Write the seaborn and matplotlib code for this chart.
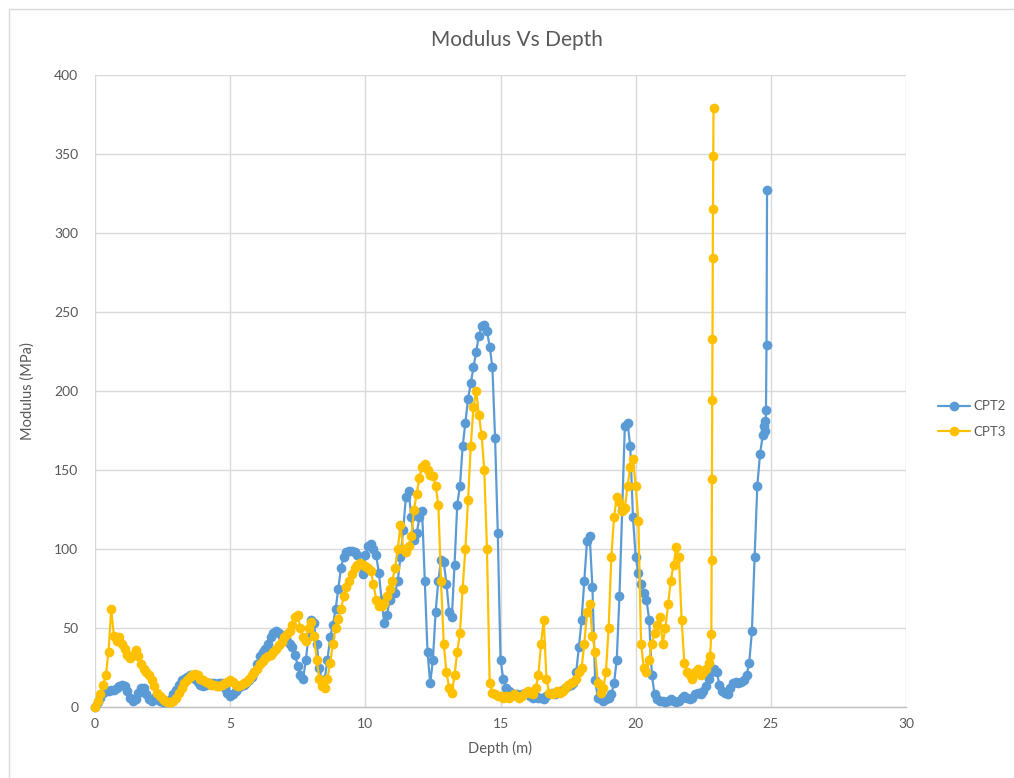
import numpy as np
import pandas as pd
import seaborn as sns
import matplotlib
matplotlib.use("Agg")
from matplotlib import pyplot as plt
from matplotlib.patches import Rectangle

# CPT soundings, modulus (MPa) every 0.1 m, plus the last few readings
cpt2_mod = [
    0, 3, 6, 9, 10, 10, 11, 11, 12, 13,            # 0.0 - 0.9
    14, 13, 10, 6, 4, 5, 9, 12, 12, 8,              # 1.0 - 1.9
    5, 4, 6, 5, 4, 3, 3, 4, 5, 8,                   # 2.0 - 2.9
    11, 14, 17, 18, 19, 20, 20, 18, 16, 14,         # 3.0 - 3.9
    13, 14, 15, 15, 15, 14, 15, 15, 12, 9,          # 4.0 - 4.9
    7, 8, 10, 12, 13, 14, 15, 17, 19, 22,           # 5.0 - 5.9
    27, 32, 35, 37, 40, 44, 47, 48, 47, 45,         # 6.0 - 6.9
    44, 42, 40, 38, 33, 26, 20, 18, 30, 45,         # 7.0 - 7.9
    55, 53, 40, 25, 16, 18, 30, 44, 52, 62,         # 8.0 - 8.9
    75, 88, 95, 98, 99, 99, 98, 96, 90, 84,         # 9.0 - 9.9
    96, 102, 103, 100, 96, 85, 68, 53, 58, 68,      # 10.0 - 10.9
    72, 72, 80, 95, 112, 133, 137, 120, 106, 110,   # 11.0 - 11.9
    120, 124, 80, 35, 15, 30, 60, 80, 93, 92,       # 12.0 - 12.9
    78, 60, 57, 90, 128, 140, 165, 180, 195, 205,   # 13.0 - 13.9
    215, 225, 235, 241, 242, 238, 228, 215, 170, 110,  # 14.0 - 14.9
    30, 18, 12, 10, 9, 8, 8, 7, 8, 9,               # 15.0 - 15.9
    8, 7, 6, 7, 6, 6, 5, 7, 8, 9,                   # 16.0 - 16.9
    8, 9, 10, 11, 12, 13, 14, 15, 22, 38,           # 17.0 - 17.9
    55, 80, 105, 108, 76, 17, 6, 5, 4, 5,           # 18.0 - 18.9
    6, 8, 15, 30, 70, 125, 178, 180, 165, 120,      # 19.0 - 19.9
    95, 85, 78, 72, 68, 55, 20, 8, 5, 4,            # 20.0 - 20.9
    4, 3, 4, 5, 4, 3, 4, 6, 7, 6,                   # 21.0 - 21.9
    5, 6, 8, 9, 8, 10, 13, 18, 22, 24,              # 22.0 - 22.9
    22, 14, 10, 9, 8, 12, 15, 16, 15, 16,           # 23.0 - 23.9
    17, 20, 28, 48, 95, 140, 160, 172,              # 24.0 - 24.7
]
cpt2_tail_depth = [24.75, 24.78, 24.80, 24.82, 24.84, 24.86]
cpt2_tail_mod = [178, 181, 175, 188, 229, 327]

cpt3_mod = [
    0, 4, 8, 14, 20, 35, 62, 45, 42, 44,            # 0.0 - 0.9
    40, 37, 33, 31, 33, 36, 32, 27, 24, 22,         # 1.0 - 1.9
    20, 17, 13, 9, 7, 5, 4, 3, 3, 4,                # 2.0 - 2.9
    6, 9, 12, 15, 17, 19, 20, 21, 20, 18,           # 3.0 - 3.9
    17, 16, 15, 14, 14, 13, 13, 14, 15, 16,         # 4.0 - 4.9
    17, 16, 14, 13, 14, 15, 16, 18, 20, 22,         # 5.0 - 5.9
    24, 27, 29, 31, 32, 33, 35, 37, 39, 41,         # 6.0 - 6.9
    44, 46, 48, 52, 57, 58, 50, 44, 42, 50,         # 7.0 - 7.9
    54, 45, 30, 18, 13, 12, 18, 28, 40, 50,         # 8.0 - 8.9
    56, 62, 70, 76, 80, 84, 88, 90, 91, 90,         # 9.0 - 9.9
    89, 88, 86, 78, 68, 64, 64, 66, 70, 75,         # 10.0 - 10.9
    80, 88, 100, 115, 100, 98, 102, 108, 125, 135,  # 11.0 - 11.9
    145, 152, 154, 150, 147, 146, 140, 128, 80, 40,  # 12.0 - 12.9
    22, 12, 9, 20, 35, 47, 75, 100, 131, 165,       # 13.0 - 13.9
    190, 200, 185, 172, 150, 100, 15, 9, 8, 7,      # 14.0 - 14.9
    7, 6, 7, 6, 7, 8, 7, 6, 7, 9,                   # 15.0 - 15.9
    10, 9, 8, 12, 20, 40, 55, 18, 9, 8,             # 16.0 - 16.9
    9, 10, 9, 10, 12, 14, 15, 16, 18, 22,           # 17.0 - 17.9
    25, 40, 60, 65, 45, 35, 15, 9, 12, 22,          # 18.0 - 18.9
    50, 95, 120, 133, 130, 124, 126, 140, 152, 157,  # 19.0 - 19.9
    140, 118, 40, 25, 22, 30, 40, 47, 52, 57,       # 20.0 - 20.9
    40, 50, 65, 80, 90, 101, 95, 55, 28, 22,        # 21.0 - 21.9
    20, 18, 22, 24, 20, 22, 24, 28,                 # 22.0 - 22.7
]
cpt3_tail_depth = [22.75, 22.80, 22.81, 22.82, 22.83, 22.84, 22.85, 22.86, 22.87, 22.88]
cpt3_tail_mod = [32, 46, 93, 144, 194, 233, 284, 315, 349, 379]

step = 0.1  # sounding interval used for the body of each profile
cpt2_depth = list(np.round(np.arange(len(cpt2_mod)) * step, 2)) + cpt2_tail_depth
cpt3_depth = list(np.round(np.arange(len(cpt3_mod)) * step, 2)) + cpt3_tail_depth
cpt2_mod = cpt2_mod + cpt2_tail_mod
cpt3_mod = cpt3_mod + cpt3_tail_mod

df = pd.concat([
    pd.DataFrame({'Depth': cpt2_depth, 'Modulus': cpt2_mod, 'Test': 'CPT2'}),
    pd.DataFrame({'Depth': cpt3_depth, 'Modulus': cpt3_mod, 'Test': 'CPT3'}),
])

sns.set_style("whitegrid", {'grid.color': '#d9d9d9', 'axes.edgecolor': '#d9d9d9'})
plt.rcParams['font.family'] = ['Lato', 'DejaVu Sans']
TXT = '#595959'

fig = plt.figure(figsize=(10.14, 7.78), dpi=100)
ax = fig.add_axes([95 / 1014, 1 - 707 / 778, (906 - 95) / 1014, (707 - 75) / 778])

colors = {'CPT2': '#5B9BD5', 'CPT3': '#FFC000'}
for name in ['CPT2', 'CPT3']:
    sub = df[df.Test == name]
    sns.lineplot(data=sub, x='Depth', y='Modulus', ax=ax, sort=False, estimator=None,
                 color=colors[name], linewidth=1.6, marker='o', markersize=7,
                 markeredgewidth=0, label=name, clip_on=False, zorder=3)

ax.set_xlim(0, 30)
ax.set_ylim(0, 400)
ax.set_xticks(np.arange(0, 31, 5))
ax.set_yticks(np.arange(0, 401, 50))
ax.tick_params(axis='both', length=0, labelsize=10, labelcolor=TXT)
ax.tick_params(axis='y', pad=12)
ax.tick_params(axis='x', pad=8)
ax.grid(True, color='#d9d9d9', linewidth=1)
for side in ['top', 'right', 'left']:
    ax.spines[side].set_visible(False)
ax.spines['bottom'].set_color('#bfbfbf')
ax.spines['bottom'].set_linewidth(1)

ax.set_xlabel('Depth (m)', fontsize=10.5, color=TXT, labelpad=8)
ax.set_ylabel('Modulus (MPa)', fontsize=10.5, color=TXT, labelpad=14)
fig.text(517 / 1014, 1 - 40 / 778, 'Modulus Vs Depth', ha='center', va='center',
         fontsize=15, color=TXT)

ax.legend(loc='center left', bbox_to_anchor=(938 / 1014, 1 - 419 / 778),
          bbox_transform=fig.transFigure, frameon=False, fontsize=9.5,
          labelcolor=TXT, handlelength=2.4, labelspacing=1.0, handletextpad=0.3,
          borderpad=0, borderaxespad=0)

fig.patches.append(Rectangle((9 / 1014, -0.05), 1.2, 1 - 9 / 778 + 0.05,
                             transform=fig.transFigure, fill=False,
                             edgecolor='#d9d9d9', linewidth=1))

fig.savefig('out.png', dpi=100)
